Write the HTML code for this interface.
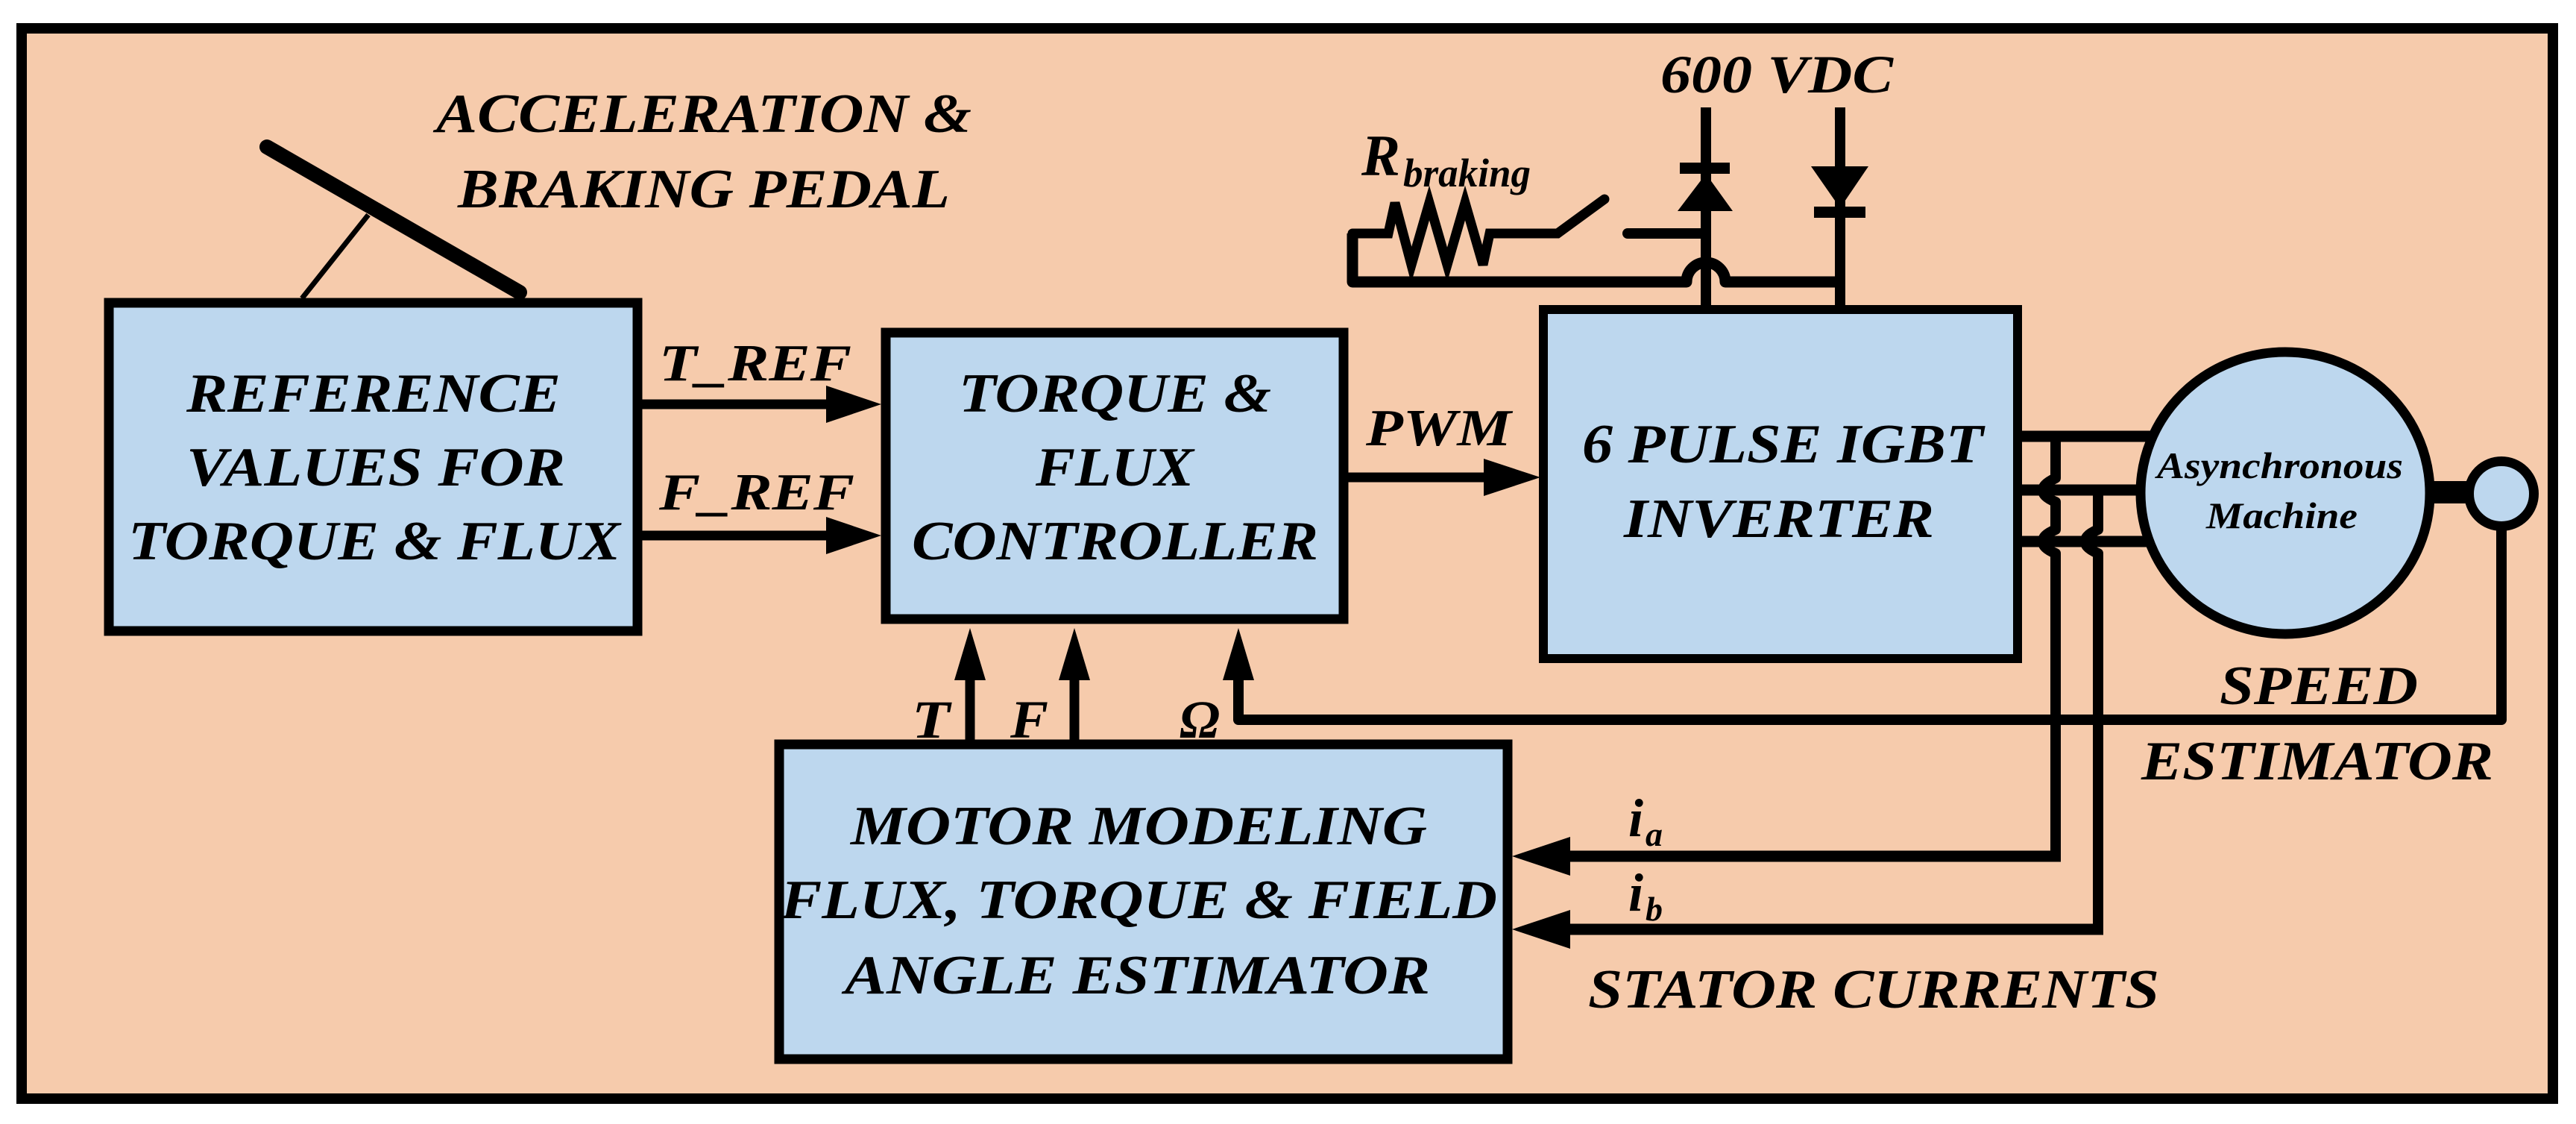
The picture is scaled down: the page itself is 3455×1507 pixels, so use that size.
<!DOCTYPE html>
<html><head><meta charset="utf-8"><style>
html,body{margin:0;padding:0;background:#fff;}
svg{display:block;}
text{font-family:"Liberation Serif",serif;font-weight:bold;font-style:italic;fill:#000;}
</style></head><body>
<svg width="3455" height="1507" viewBox="0 0 3455 1507" xmlns="http://www.w3.org/2000/svg">
<rect x="29" y="38" width="3395" height="1435" fill="#F6CBAC" stroke="#000" stroke-width="14"/>

<!-- pedal -->
<line x1="494" y1="288" x2="405" y2="400" stroke="#000" stroke-width="7"/>
<line x1="358" y1="197" x2="697" y2="392" stroke="#000" stroke-width="20" stroke-linecap="round"/>
<text x="585" y="177" font-size="74" textLength="718" lengthAdjust="spacingAndGlyphs">ACCELERATION &amp;</text>
<text x="614" y="278" font-size="74" textLength="660" lengthAdjust="spacingAndGlyphs">BRAKING PEDAL</text>

<!-- reference box -->
<rect x="146" y="406" width="709" height="440" fill="#BDD7EE" stroke="#000" stroke-width="13"/>
<text x="250" y="552" font-size="74" textLength="502" lengthAdjust="spacingAndGlyphs">REFERENCE</text>
<text x="250" y="651" font-size="74" textLength="508" lengthAdjust="spacingAndGlyphs">VALUES FOR</text>
<text x="172" y="750" font-size="74" textLength="660" lengthAdjust="spacingAndGlyphs">TORQUE &amp; FLUX</text>

<!-- T_REF / F_REF arrows -->
<line x1="861" y1="542" x2="1115" y2="542" stroke="#000" stroke-width="13"/>
<polygon points="1108,517 1182,542 1108,567" fill="#000"/>
<line x1="861" y1="718" x2="1115" y2="718" stroke="#000" stroke-width="13"/>
<polygon points="1108,693 1182,718 1108,743" fill="#000"/>
<text x="884" y="510" font-size="70" textLength="258" lengthAdjust="spacingAndGlyphs">T_REF</text>
<text x="884" y="683" font-size="70" textLength="262" lengthAdjust="spacingAndGlyphs">F_REF</text>

<!-- controller box -->
<rect x="1188" y="446" width="614" height="384" fill="#BDD7EE" stroke="#000" stroke-width="13"/>
<text x="1286" y="552" font-size="74" textLength="419" lengthAdjust="spacingAndGlyphs">TORQUE &amp;</text>
<text x="1389" y="651" font-size="74" textLength="212" lengthAdjust="spacingAndGlyphs">FLUX</text>
<text x="1223" y="750" font-size="74" textLength="545" lengthAdjust="spacingAndGlyphs">CONTROLLER</text>

<!-- PWM -->
<line x1="1808" y1="640" x2="2000" y2="640" stroke="#000" stroke-width="13"/>
<polygon points="1990,615 2066,640 1990,665" fill="#000"/>
<text x="1832" y="597" font-size="70" textLength="195" lengthAdjust="spacingAndGlyphs">PWM</text>

<!-- braking circuit -->
<polyline points="2288,414 2288,144" fill="none" stroke="#000" stroke-width="14"/>
<polyline points="2468,414 2468,144" fill="none" stroke="#000" stroke-width="14"/>
<polygon points="2250,283 2324,283 2288,233" fill="#000"/>
<rect x="2253" y="218" width="67" height="15" fill="#000"/>
<polygon points="2429,223 2506,223 2468,279" fill="#000"/>
<rect x="2433" y="277" width="69" height="15" fill="#000"/>
<path d="M1814,313 L1814,378 L2262,378 A26,26 0 0 1 2314,378 L2468,378" fill="none" stroke="#000" stroke-width="15" stroke-linejoin="round"/>
<polyline points="1814,313 1862,313 1871,272 1893,355 1917,272 1941,355 1965,272 1989,355 1998,313 2089,313 2152,267" fill="none" stroke="#000" stroke-width="13" stroke-linejoin="miter" stroke-linecap="round"/>
<line x1="2183" y1="313" x2="2288" y2="313" stroke="#000" stroke-width="14" stroke-linecap="round"/>
<text x="1826" y="235" font-size="78">R</text>
<text x="1882" y="250" font-size="54" textLength="171" lengthAdjust="spacingAndGlyphs">braking</text>
<text x="2227" y="124" font-size="72" textLength="312" lengthAdjust="spacingAndGlyphs">600 VDC</text>

<!-- inverter -->
<rect x="2070" y="415" width="636" height="468" fill="#BDD7EE" stroke="#000" stroke-width="12"/>
<text x="2122" y="620" font-size="74" textLength="538" lengthAdjust="spacingAndGlyphs">6 PULSE IGBT</text>
<text x="2178" y="720" font-size="74" textLength="416" lengthAdjust="spacingAndGlyphs">INVERTER</text>

<!-- phase lines -->
<g stroke="#000" stroke-width="15" fill="none">
<line x1="2700" y1="585" x2="2900" y2="585"/>
<line x1="2700" y1="657" x2="2900" y2="657"/>
<line x1="2700" y1="726" x2="2900" y2="726"/>
</g>
<g stroke="#000" stroke-width="14" fill="none" stroke-linejoin="round">
<path d="M2757,585 L2757,641 Q2738,650 2741,657 Q2738,665 2757,673 L2757,710 Q2738,718 2741,726 Q2738,734 2757,742 L2757,1148"/>
<path d="M2814,657 L2814,710 Q2795,718 2798,726 Q2795,734 2814,742 L2814,1246"/>
</g>

<!-- machine -->
<rect x="3250" y="645" width="65" height="30" fill="#000"/>
<ellipse cx="3065" cy="661" rx="194" ry="189" fill="#BDD7EE" stroke="#000" stroke-width="13"/>
<circle cx="3355" cy="662" r="43.5" fill="#BDD7EE" stroke="#000" stroke-width="13"/>
<text x="2893" y="641" font-size="50" textLength="330" lengthAdjust="spacingAndGlyphs">Asynchronous</text>
<text x="2959" y="708" font-size="50" textLength="203" lengthAdjust="spacingAndGlyphs">Machine</text>

<!-- speed feedback -->
<polyline points="3355,705 3355,965 1661,965 1661,905" fill="none" stroke="#000" stroke-width="14" stroke-linejoin="round"/>
<text x="2977" y="944" font-size="74" textLength="266" lengthAdjust="spacingAndGlyphs">SPEED</text>
<text x="2872" y="1045" font-size="74" textLength="472" lengthAdjust="spacingAndGlyphs">ESTIMATOR</text>

<!-- up arrows -->
<line x1="1301" y1="993" x2="1301" y2="900" stroke="#000" stroke-width="13"/>
<polygon points="1301,842 1280,912 1322,912" fill="#000"/>
<line x1="1441" y1="993" x2="1441" y2="900" stroke="#000" stroke-width="13"/>
<polygon points="1441,842 1420,912 1462,912" fill="#000"/>
<polygon points="1661,842 1640,912 1682,912" fill="#000"/>
<text x="1223" y="989" font-size="72" textLength="51" lengthAdjust="spacingAndGlyphs">T</text>
<text x="1355" y="989" font-size="72" textLength="51" lengthAdjust="spacingAndGlyphs">F</text>
<text x="1582" y="989" font-size="72" textLength="54" lengthAdjust="spacingAndGlyphs">Ω</text>

<!-- motor modeling box -->
<rect x="1045" y="998" width="977" height="422" fill="#BDD7EE" stroke="#000" stroke-width="13"/>
<text x="1141" y="1132" font-size="74" textLength="773" lengthAdjust="spacingAndGlyphs">MOTOR MODELING</text>
<text x="1047" y="1231" font-size="74" textLength="961" lengthAdjust="spacingAndGlyphs">FLUX, TORQUE &amp; FIELD</text>
<text x="1133" y="1332" font-size="74" textLength="785" lengthAdjust="spacingAndGlyphs">ANGLE ESTIMATOR</text>

<!-- current arrows -->
<line x1="2764" y1="1148" x2="2095" y2="1148" stroke="#000" stroke-width="15"/>
<polygon points="2028,1148 2106,1122 2106,1174" fill="#000"/>
<line x1="2821" y1="1246" x2="2095" y2="1246" stroke="#000" stroke-width="15"/>
<polygon points="2028,1246 2106,1220 2106,1272" fill="#000"/>
<text x="2184" y="1121" font-size="72">i</text>
<text x="2207" y="1134" font-size="46">a</text>
<text x="2184" y="1221" font-size="72">i</text>
<text x="2207" y="1234" font-size="46">b</text>
<text x="2130" y="1351" font-size="74" textLength="766" lengthAdjust="spacingAndGlyphs">STATOR CURRENTS</text>
</svg>
</body></html>
